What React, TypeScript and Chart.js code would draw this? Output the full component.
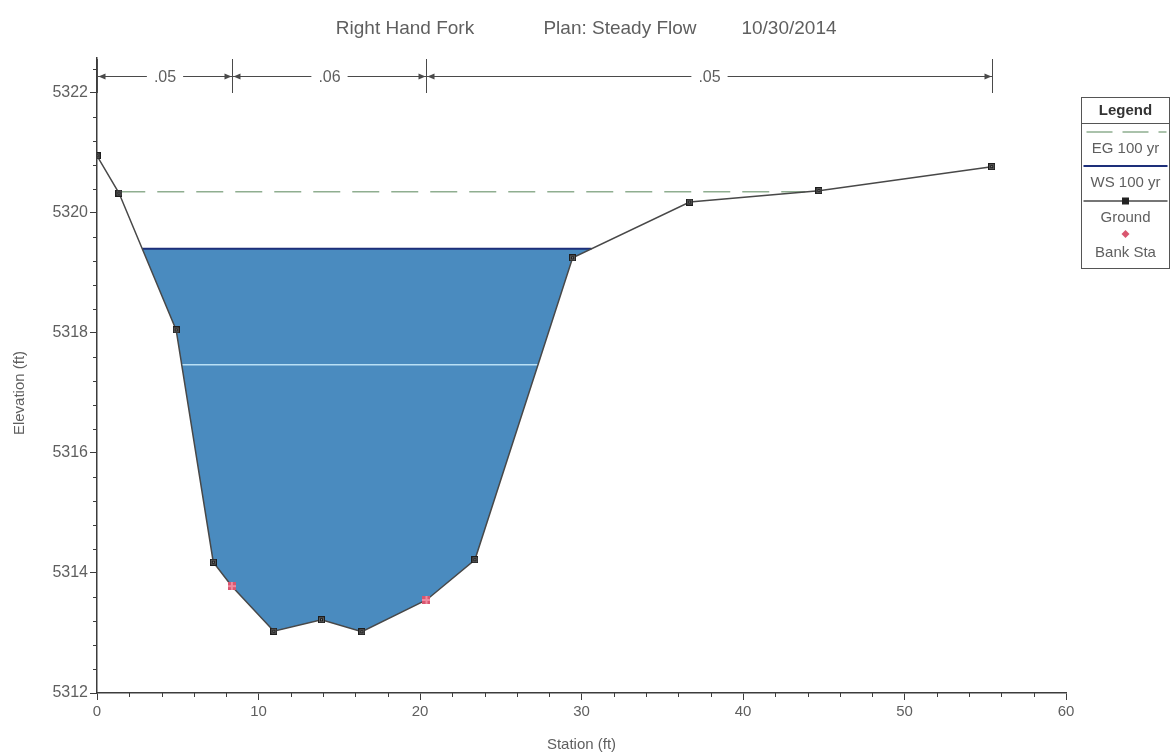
import React, { useEffect, useRef } from 'react';
import { Chart, registerables } from 'chart.js';

Chart.register(...registerables);

// ---- data ----
const groundStation = [0, 1.36, 4.9, 7.2, 8.35, 10.95, 13.9, 16.4, 20.4, 23.4, 29.45, 36.7, 44.7, 55.4];
const groundElev = [5320.95, 5320.33, 5318.05, 5314.18, 5313.78, 5313.03, 5313.22, 5313.02, 5313.55, 5314.22, 5319.25, 5320.18, 5320.37, 5320.77];
const bankStation = [8.35, 20.4];
const bankElev = [5313.78, 5313.55];
const wsElev = 5319.4;
const egElev = 5320.35;
const innerElev = 5317.47;
const nBreaks = [0, 8.35, 20.4, 55.4];
const nValues = ['.05', '.06', '.05'];
const titleParts = ['Right Hand Fork', 'Plan: Steady Flow', '10/30/2014'];
const legendLabels = ['EG 100 yr', 'WS 100 yr', 'Ground', 'Bank Sta'];
const xAxisTitle = 'Station (ft)';
const yAxisTitle = 'Elevation (ft)';

// ---- styles ----
const FONT = '"Liberation Sans", Arial, sans-serif';
const textColor = '#5f5f5f';
const axisColor = '#3c3c3c';
const waterColor = 'rgb(74,139,191)';
const wsColor = '#1d2f7a';
const egColor = '#8fae90';
const groundColor = '#484848';
const bankColor = '#d9566f';
const innerColor = '#b9e0f5';

function crossings(elev: number): [number, number] {
  let left: number | null = null;
  let right: number | null = null;
  for (let i = 0; i < groundStation.length - 1; i++) {
    const a = groundElev[i];
    const b = groundElev[i + 1];
    const s0 = groundStation[i];
    const s1 = groundStation[i + 1];
    if (left === null && a >= elev && b < elev) left = s0 + ((a - elev) / (a - b)) * (s1 - s0);
    if (a < elev && b >= elev) right = s0 + ((elev - a) / (b - a)) * (s1 - s0);
  }
  return [left ?? groundStation[0], right ?? groundStation[groundStation.length - 1]];
}

function makeMarker(): HTMLCanvasElement {
  const c = document.createElement('canvas');
  c.width = 7;
  c.height = 7;
  const g = c.getContext('2d')!;
  g.fillStyle = '#1e1e1e';
  g.fillRect(0, 0, 7, 7);
  g.fillStyle = '#5a5a5a';
  g.fillRect(1, 1, 5, 5);
  g.fillStyle = '#1e1e1e';
  g.fillRect(2, 2, 3, 3);
  g.fillStyle = '#b0b0b0';
  g.fillRect(3, 3, 1, 1);
  return c;
}

function makeBankMarker(): HTMLCanvasElement {
  const c = document.createElement('canvas');
  c.width = 8;
  c.height = 8;
  const g = c.getContext('2d')!;
  g.fillStyle = bankColor;
  g.fillRect(0, 0, 8, 8);
  g.fillStyle = '#f08aa0';
  g.fillRect(3, 0, 2, 8);
  g.fillRect(0, 3, 8, 2);
  return c;
}

const decorPlugin = {
  id: 'decor',
  afterDraw(chart: any) {
    const ctx: CanvasRenderingContext2D = chart.ctx;
    const xs = chart.scales.x;
    const ys = chart.scales.y;
    const area = chart.chartArea;
    ctx.save();

    // minor ticks
    ctx.strokeStyle = axisColor;
    ctx.lineWidth = 1;
    ctx.beginPath();
    for (let k = 0; k <= 30; k++) {
      if (k % 5 === 0) continue;
      const px = Math.round(xs.getPixelForValue(k * 2)) + 0.5;
      ctx.moveTo(px, area.bottom);
      ctx.lineTo(px, area.bottom + 4);
    }
    for (let k = 0; k <= 26; k++) {
      if (k % 5 === 0) continue;
      const py = Math.round(ys.getPixelForValue(5312 + k * 0.4)) + 0.5;
      ctx.moveTo(area.left, py);
      ctx.lineTo(area.left - 4, py);
    }
    ctx.stroke();

    // title
    ctx.fillStyle = textColor;
    ctx.font = `19px ${FONT}`;
    ctx.textBaseline = 'alphabetic';
    ctx.textAlign = 'center';
    const titleCenters = [405, 620, 789];
    titleParts.forEach((t, i) => ctx.fillText(t, titleCenters[i], 34));

    // y axis title
    ctx.save();
    ctx.translate(20, 393);
    ctx.rotate(-Math.PI / 2);
    ctx.textBaseline = 'middle';
    ctx.font = `15px ${FONT}`;
    ctx.fillText(yAxisTitle, 0, 0);
    ctx.restore();

    // Manning's n bar
    const yA = 76.5;
    ctx.font = `16px ${FONT}`;
    ctx.textBaseline = 'middle';
    ctx.strokeStyle = '#4a4a4a';
    ctx.fillStyle = '#4a4a4a';
    const bx = nBreaks.map((b) => Math.round(xs.getPixelForValue(b)) + 0.5);
    ctx.beginPath();
    bx.forEach((x) => {
      ctx.moveTo(x, 59);
      ctx.lineTo(x, 93);
    });
    ctx.stroke();
    for (let i = 0; i < nValues.length; i++) {
      const x1 = bx[i];
      const x2 = bx[i + 1];
      const mid = (x1 + x2) / 2;
      const w = ctx.measureText(nValues[i]).width;
      ctx.beginPath();
      ctx.moveTo(x1, yA);
      ctx.lineTo(mid - w / 2 - 7, yA);
      ctx.moveTo(mid + w / 2 + 7, yA);
      ctx.lineTo(x2, yA);
      ctx.stroke();
      ctx.beginPath();
      ctx.moveTo(x1 + 1, yA);
      ctx.lineTo(x1 + 8, yA - 3);
      ctx.lineTo(x1 + 8, yA + 3);
      ctx.closePath();
      ctx.moveTo(x2 - 1, yA);
      ctx.lineTo(x2 - 8, yA - 3);
      ctx.lineTo(x2 - 8, yA + 3);
      ctx.closePath();
      ctx.fill();
      ctx.fillStyle = textColor;
      ctx.fillText(nValues[i], mid, yA + 1);
      ctx.fillStyle = '#4a4a4a';
    }

    // legend
    const L = 1081.5;
    const R = 1169.5;
    const T = 97.5;
    const B = 268.5;
    const cx = (L + R) / 2;
    ctx.strokeStyle = '#555';
    ctx.lineWidth = 1;
    ctx.strokeRect(L, T, R - L, B - T);
    ctx.beginPath();
    ctx.moveTo(L, 123.5);
    ctx.lineTo(R, 123.5);
    ctx.stroke();
    ctx.fillStyle = '#333';
    ctx.font = `bold 15px ${FONT}`;
    ctx.fillText('Legend', cx, 111);
    ctx.font = `15px ${FONT}`;
    ctx.fillStyle = textColor;
    // EG
    ctx.strokeStyle = egColor;
    ctx.lineWidth = 1.5;
    ctx.setLineDash([26, 10]);
    ctx.beginPath();
    ctx.moveTo(L + 5, 132);
    ctx.lineTo(R - 3, 132);
    ctx.stroke();
    ctx.setLineDash([]);
    ctx.fillText(legendLabels[0], cx, 149);
    // WS
    ctx.strokeStyle = wsColor;
    ctx.lineWidth = 2;
    ctx.beginPath();
    ctx.moveTo(L + 2, 166);
    ctx.lineTo(R - 2, 166);
    ctx.stroke();
    ctx.fillText(legendLabels[1], cx, 183);
    // Ground
    ctx.strokeStyle = groundColor;
    ctx.lineWidth = 1.5;
    ctx.beginPath();
    ctx.moveTo(L + 2, 201);
    ctx.lineTo(R - 2, 201);
    ctx.stroke();
    ctx.fillStyle = '#222';
    ctx.fillRect(cx - 3.5, 197.5, 7, 7);
    ctx.fillStyle = textColor;
    ctx.fillText(legendLabels[2], cx, 218);
    // Bank
    ctx.fillStyle = bankColor;
    ctx.beginPath();
    ctx.moveTo(cx, 230);
    ctx.lineTo(cx + 4, 234);
    ctx.lineTo(cx, 238);
    ctx.lineTo(cx - 4, 234);
    ctx.closePath();
    ctx.fill();
    ctx.fillStyle = textColor;
    ctx.fillText(legendLabels[3], cx, 253);

    ctx.restore();
  },
};

export default function App() {
  const ref = useRef<HTMLCanvasElement>(null);
  useEffect(() => {
    const canvas = ref.current!;
    const [wsL, wsR] = crossings(wsElev);
    const [egL, egR] = crossings(egElev);
    const [inL, inR] = crossings(innerElev);
    const groundPts = groundStation.map((s, i) => ({ x: s, y: groundElev[i] }));
    const waterPoly = [
      { x: wsL, y: wsElev },
      ...groundPts.filter((p) => p.x > wsL && p.x < wsR),
      { x: wsR, y: wsElev },
    ];
    const chart = new Chart(canvas, {
      type: 'line',
      data: {
        datasets: [
          {
            label: 'water',
            data: waterPoly,
            fill: { value: wsElev },
            backgroundColor: waterColor,
            borderColor: 'rgba(0,0,0,0)',
            borderWidth: 0,
            pointRadius: 0,
            order: 6,
          },
          {
            label: 'inner',
            data: [
              { x: inL, y: innerElev },
              { x: inR, y: innerElev },
            ],
            borderColor: innerColor,
            borderWidth: 1.5,
            pointRadius: 0,
            fill: false,
            order: 5,
          },
          {
            label: legendLabels[0],
            data: [
              { x: egL, y: egElev },
              { x: egR, y: egElev },
            ],
            borderColor: egColor,
            borderWidth: 1.5,
            borderDash: [27, 12],
            pointRadius: 0,
            fill: false,
            order: 4,
          },
          {
            label: legendLabels[1],
            data: [
              { x: wsL, y: wsElev },
              { x: wsR, y: wsElev },
            ],
            borderColor: wsColor,
            borderWidth: 2,
            pointRadius: 0,
            fill: false,
            order: 3,
          },
          {
            label: legendLabels[2],
            data: groundPts,
            borderColor: groundColor,
            borderWidth: 1.5,
            pointStyle: makeMarker(),
            pointRadius: 3.5,
            fill: false,
            order: 2,
          },
          {
            label: legendLabels[3],
            data: bankStation.map((s, i) => ({ x: s, y: bankElev[i] })),
            showLine: false,
            pointStyle: makeBankMarker(),
            pointRadius: 4,
            fill: false,
            order: 1,
          },
        ],
      },
      options: {
        responsive: false,
        animation: false,
        layout: { padding: { left: 0, top: 58, right: 107, bottom: 0 } },
        plugins: {
          legend: { display: false },
          title: { display: false },
          tooltip: { enabled: false },
        },
        scales: {
          x: {
            type: 'linear',
            min: 0,
            max: 60,
            ticks: {
              stepSize: 10,
              color: textColor,
              font: { size: 15, family: FONT },
              padding: 3,
              maxRotation: 0,
              callback: (v: any) => String(v),
            },
            grid: {
              drawOnChartArea: false,
              drawTicks: true,
              tickLength: 7,
              color: axisColor,
            },
            border: { display: true, color: axisColor, width: 1.5 },
            title: {
              display: true,
              text: xAxisTitle,
              color: textColor,
              font: { size: 15, family: FONT },
              padding: { top: 0, bottom: 1 },
            },
            afterFit: (scale: any) => {
              scale.height = 62;
            },
          },
          y: {
            type: 'linear',
            min: 5312,
            max: 5322.58,
            afterBuildTicks: (scale: any) => {
              scale.ticks = scale.ticks.filter((t: any) => Math.abs(t.value % 2) < 1e-6);
            },
            ticks: {
              stepSize: 2,
              color: textColor,
              font: { size: 16, family: FONT },
              padding: 2,
              callback: (v: any) => String(v),
            },
            grid: {
              drawOnChartArea: false,
              drawTicks: true,
              tickLength: 7,
              color: axisColor,
            },
            border: { display: true, color: axisColor, width: 1.5 },
            afterFit: (scale: any) => {
              scale.width = 97;
            },
          },
        },
      },
      plugins: [decorPlugin],
    } as any);
    return () => chart.destroy();
  }, []);
  return (
    <div style={{ position: 'absolute', left: 0, top: 0, width: 1173, height: 755, background: '#fff' }}>
      <canvas ref={ref} width={1173} height={755} style={{ display: 'block' }} />
    </div>
  );
}
